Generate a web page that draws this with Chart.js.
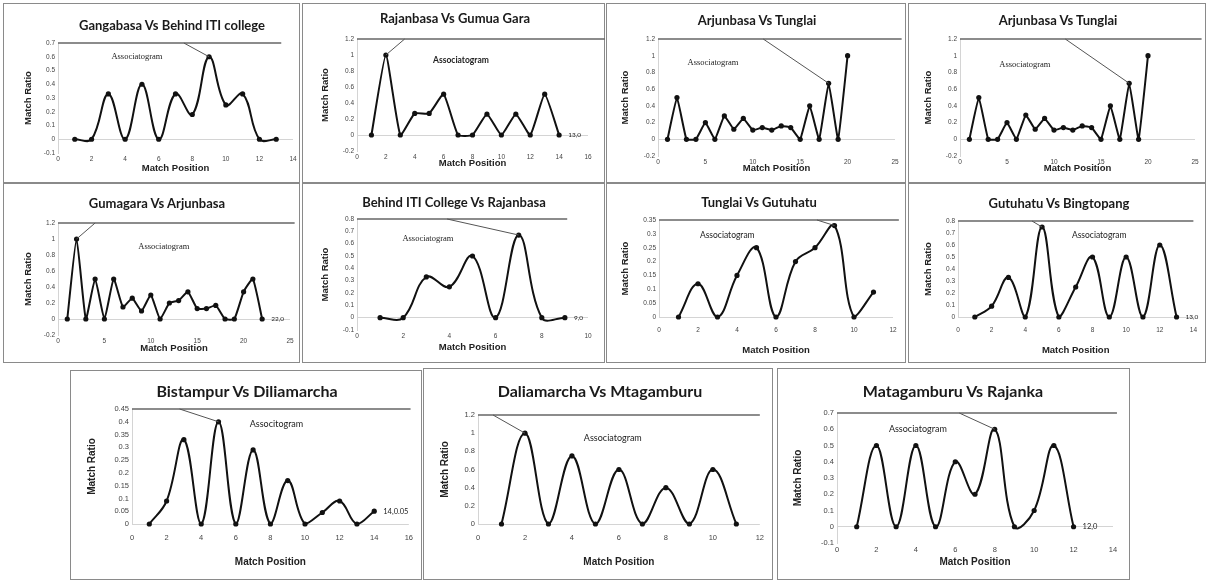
<!DOCTYPE html>
<html>
<head>
<meta charset="utf-8">
<script src="https://cdn.jsdelivr.net/npm/chart.js@4.4.1/dist/chart.umd.min.js"></script>
<style>
  body { margin: 0; background: #fff; width: 1208px; height: 581px; position: relative; overflow: hidden; font-family: Lato, sans-serif; }
  .panel { position: absolute; outline: 1px solid #8a8a8a; outline-offset: -1px; }
  .panel canvas { position: absolute; left: 0; top: 0; }
  .ttl { position: absolute; font-weight: bold; white-space: nowrap; transform: translate(-50%, -50%); color: #1a1a1a; }
</style>
</head>
<body>
<script>
// chart titles
const titles = [
  'Gangabasa Vs Behind ITI college', 'Rajanbasa Vs Gumua Gara', 'Arjunbasa Vs Tunglai', 'Arjunbasa Vs Tunglai',
  'Gumagara Vs Arjunbasa', 'Behind ITI College Vs Rajanbasa', 'Tunglai Vs Gutuhatu', 'Gutuhatu Vs Bingtopang',
  'Bistampur Vs Diliamarcha', 'Daliamarcha Vs Mtagamburu', 'Matagamburu Vs Rajanka'
];
const assocText = ['Associatogram', 'Associatogram', 'Associatogram', 'Associatogram', 'Associatogram', 'Associatogram',
  'Associatogram', 'Associatogram', 'Associtogram', 'Associatogram', 'Associatogram'];
const endText = [null, '13,0', null, null, '22,0', '9,0', null, '13,0', '14,0.05', null, '12,0'];

// match positions and match ratios, one pair per panel
const pos1 = [1, 2, 3, 4, 5, 6, 7, 8, 9, 10, 11, 12, 13];
const ratio1 = [0, 0, 0.33, 0, 0.4, 0, 0.33, 0.18, 0.6, 0.25, 0.33, 0, 0];
const pos2 = [1, 2, 3, 4, 5, 6, 7, 8, 9, 10, 11, 12, 13, 14];
const ratio2 = [0, 1, 0, 0.27, 0.27, 0.51, 0, 0, 0.26, 0, 0.26, 0, 0.51, 0];
const pos3 = [1, 2, 3, 4, 5, 6, 7, 8, 9, 10, 11, 12, 13, 14, 15, 16, 17, 18, 19, 20];
const ratio3 = [0, 0.5, 0, 0, 0.2, 0, 0.28, 0.12, 0.25, 0.11, 0.14, 0.11, 0.16, 0.14, 0, 0.4, 0, 0.67, 0, 1];
const pos4 = [1, 2, 3, 4, 5, 6, 7, 8, 9, 10, 11, 12, 13, 14, 15, 16, 17, 18, 19, 20];
const ratio4 = [0, 0.5, 0, 0, 0.2, 0, 0.29, 0.12, 0.25, 0.11, 0.14, 0.11, 0.16, 0.14, 0, 0.4, 0, 0.67, 0, 1];
const pos5 = [1, 2, 3, 4, 5, 6, 7, 8, 9, 10, 11, 12, 13, 14, 15, 16, 17, 18, 19, 20, 21, 22];
const ratio5 = [0, 1, 0, 0.5, 0, 0.5, 0.15, 0.26, 0.1, 0.3, 0, 0.2, 0.23, 0.34, 0.13, 0.13, 0.17, 0, 0, 0.34, 0.5, 0];
const pos6 = [1, 2, 3, 4, 5, 6, 7, 8, 9];
const ratio6 = [0, 0, 0.33, 0.25, 0.5, 0, 0.67, 0, 0];
const pos7 = [1, 2, 3, 4, 5, 6, 7, 8, 9, 10, 11];
const ratio7 = [0, 0.12, 0, 0.15, 0.25, 0, 0.2, 0.25, 0.33, 0, 0.09];
const pos8 = [1, 2, 3, 4, 5, 6, 7, 8, 9, 10, 11, 12, 13];
const ratio8 = [0, 0.09, 0.33, 0, 0.75, 0, 0.25, 0.5, 0, 0.5, 0, 0.6, 0];
const pos9 = [1, 2, 3, 4, 5, 6, 7, 8, 9, 10, 11, 12, 13, 14];
const ratio9 = [0, 0.09, 0.33, 0, 0.4, 0, 0.29, 0, 0.17, 0, 0.045, 0.09, 0, 0.05];
const pos10 = [1, 2, 3, 4, 5, 6, 7, 8, 9, 10, 11];
const ratio10 = [0, 1, 0, 0.75, 0, 0.6, 0, 0.4, 0, 0.6, 0];
const pos11 = [1, 2, 3, 4, 5, 6, 7, 8, 9, 10, 11, 12];
const ratio11 = [0, 0.5, 0, 0.5, 0, 0.4, 0.2, 0.6, 0, 0.1, 0.5, 0];

const positions = [pos1, pos2, pos3, pos4, pos5, pos6, pos7, pos8, pos9, pos10, pos11];
const ratios = [ratio1, ratio2, ratio3, ratio4, ratio5, ratio6, ratio7, ratio8, ratio9, ratio10, ratio11];

// axis ranges
const xMax = [14, 16, 25, 25, 25, 10, 12, 14, 16, 12, 14];
const xStep = [2, 2, 5, 5, 5, 2, 2, 2, 2, 2, 2];
const yMin = [-0.1, -0.2, -0.2, -0.2, -0.2, -0.1, 0, 0, 0, 0, -0.1];
const yMax = [0.7, 1.2, 1.2, 1.2, 1.2, 0.8, 0.35, 0.8, 0.45, 1.2, 0.7];
const yStep = [0.1, 0.2, 0.2, 0.2, 0.2, 0.1, 0.05, 0.1, 0.05, 0.2, 0.1];

// associatogram annotation: label spot, leader from point at x, to top line at x, top line end
const assocAt = [[4.7, 0.6], [7.2, 0.94], [5.8, 0.92], [6.9, 0.89], [11.4, 0.9], [3.07, 0.64], [3.5, 0.296], [8.4, 0.68], [8.35, 0.39], [5.74, 0.95], [4.1, 0.6]];
const leaderFrom = [9, 2, 18, 18, 2, 7, 9, 5, 5, 2, 8];
const leaderTo = [7.5, 3.3, 11.1, 11.2, 4.0, 3.9, 8.1, 4.4, 2.75, 0.64, 6.2];
const topEnd = [13.3, 17.2, 25.7, 25.7, 25.5, 9.1, 12.3, 14, 16.1, 12, 14.2];

// page layout (px): panel box [l, t, r, b], plot area [l, t, r, b], title centre, axis title spots
const boxes = [[3, 3, 300, 183], [302, 3, 605, 183], [606, 3, 906, 183], [908, 3, 1206, 183],
  [3, 183, 300, 363], [302, 183, 605, 363], [606, 183, 906, 363], [908, 183, 1206, 363],
  [70, 370, 422, 580], [423, 368, 773, 580], [777, 368, 1130, 580]];
const plots = [[58, 43, 293, 153], [357, 39, 588, 151], [658, 39, 895, 156], [960, 39, 1195, 156],
  [58, 223, 290, 335], [357, 219, 588, 330], [659, 220, 893, 317], [958, 221, 1195, 317],
  [132, 409, 410, 524], [478, 415, 760, 524], [837, 413, 1113, 543]];
const titleAt = [[172, 25], [455, 18], [757, 20], [1058, 20], [157, 203], [454, 202], [759, 202], [1059, 203],
  [247, 390], [600, 390], [953, 390]];
const yTitleX = [28, 325, 625, 928, 28, 325, 625, 928, 92, 445, 798];
const xTitleY = [168, 163, 168, 168, 348, 347, 350, 350, 562, 562, 562];
const smooth = [0.4, 0.15, 0.1, 0.1, 0.15, 0.4, 0.4, 0.4, 0.4, 0.4, 0.4];
const serifLabel = [true, false, true, true, true, true, false, false, false, false, false];

const fmt = v => String(+(+v).toFixed(2));

// draws the top line, the leader line and the labels
const overlay = {
  id: 'overlay',
  afterDatasetsDraw(chart, args, o) {
    const { ctx, scales: { x, y } } = chart;
    const pts = chart.getDatasetMeta(0).data;
    const ty = y.getPixelForValue(o.top);
    ctx.save();
    ctx.strokeStyle = '#666';
    ctx.lineWidth = 1.5;
    ctx.beginPath();
    ctx.moveTo(chart.chartArea.left, ty);
    ctx.lineTo(x.getPixelForValue(o.topEnd), ty);
    ctx.stroke();
    const p = pts[o.leaderIdx];
    ctx.strokeStyle = '#555';
    ctx.lineWidth = 1;
    ctx.beginPath();
    ctx.moveTo(p.x, p.y);
    ctx.lineTo(x.getPixelForValue(o.leaderTo), ty);
    ctx.stroke();
    ctx.fillStyle = '#222';
    ctx.font = o.font;
    ctx.textAlign = 'center';
    ctx.textBaseline = 'middle';
    ctx.fillText(o.text, x.getPixelForValue(o.at[0]), y.getPixelForValue(o.at[1]));
    if (o.end) {
      const q = pts[pts.length - 1];
      ctx.textAlign = 'left';
      ctx.font = o.endFont;
      ctx.fillText(o.end, q.x + 9, q.y);
    }
    ctx.restore();
  }
};

titles.forEach((title, i) => {
  const b = boxes[i], p = plots[i];
  const big = i >= 8;
  const zeroBase = yMin[i] === 0;
  const w = b[2] - b[0], h = b[3] - b[1];

  const div = document.createElement('div');
  div.className = 'panel';
  div.style.left = b[0] + 'px';
  div.style.top = b[1] + 'px';
  div.style.width = w + 'px';
  div.style.height = h + 'px';
  const cv = document.createElement('canvas');
  cv.width = w;
  cv.height = h;
  div.appendChild(cv);
  document.body.appendChild(div);

  const t = document.createElement('div');
  t.className = 'ttl';
  t.textContent = title;
  t.style.left = titleAt[i][0] + 'px';
  t.style.top = titleAt[i][1] + 'px';
  t.style.fontSize = (big ? 16 : 13) + 'px';
  document.body.appendChild(t);

  const tickSize = big ? 7.5 : 6.5;
  const axSize = big ? 10 : 9.5;
  const lh = axSize * 1.2;

  new Chart(cv, {
    type: 'line',
    data: {
      datasets: [{
        data: positions[i].map((x, k) => ({ x: x, y: ratios[i][k] })),
        borderColor: '#111',
        borderWidth: 2,
        backgroundColor: '#111',
        pointRadius: 2.6,
        pointBackgroundColor: '#111',
        pointBorderWidth: 0,
        tension: smooth[i],
        clip: { left: 4, top: 4, right: 4, bottom: zeroBase ? 3 : 0 }
      }]
    },
    options: {
      responsive: false,
      animation: false,
      layout: { padding: { left: 0, top: p[1] - b[1], right: b[2] - p[2], bottom: 0 } },
      plugins: {
        legend: { display: false },
        title: { display: false },
        tooltip: { enabled: false },
        overlay: {
          top: yMax[i], topEnd: topEnd[i],
          leaderIdx: positions[i].indexOf(leaderFrom[i]), leaderTo: leaderTo[i],
          text: assocText[i], at: assocAt[i],
          font: (i === 1 ? 'bold ' : '') + (big ? 9 : 8.5) + 'px ' + (serifLabel[i] ? '"Liberation Serif"' : 'Lato'),
          end: endText[i], endFont: (big ? 7.5 : 6.5) + 'px Lato'
        }
      },
      scales: {
        x: {
          type: 'linear',
          min: 0,
          max: xMax[i],
          ticks: { stepSize: xStep[i], font: { size: tickSize }, color: '#444', padding: zeroBase ? 9 : 2, maxRotation: 0, autoSkip: false },
          grid: { display: false, drawTicks: false },
          border: { display: false },
          title: { display: true, text: 'Match Position', color: '#222', font: { size: axSize, weight: 'bold' },
            padding: { top: 0, bottom: (b[3] - xTitleY[i]) - lh / 2 } },
          afterFit(s) { s.height = b[3] - p[3]; }
        },
        y: {
          min: yMin[i],
          max: yMax[i],
          ticks: { stepSize: yStep[i], font: { size: tickSize }, color: '#444', padding: 3, callback: fmt },
          grid: { color: c => (c.tick && Math.abs(c.tick.value) < 1e-9) ? '#d4d4d4' : 'rgba(0,0,0,0)', drawTicks: false },
          border: { display: true, color: '#d4d4d4' },
          title: { display: true, text: 'Match Ratio', color: '#222', font: { size: axSize, weight: 'bold' },
            padding: { top: (yTitleX[i] - b[0]) - lh / 2, bottom: 0 } },
          afterFit(s) { s.width = p[0] - b[0]; }
        }
      }
    },
    plugins: [overlay]
  });
});
</script>
</body>
</html>
